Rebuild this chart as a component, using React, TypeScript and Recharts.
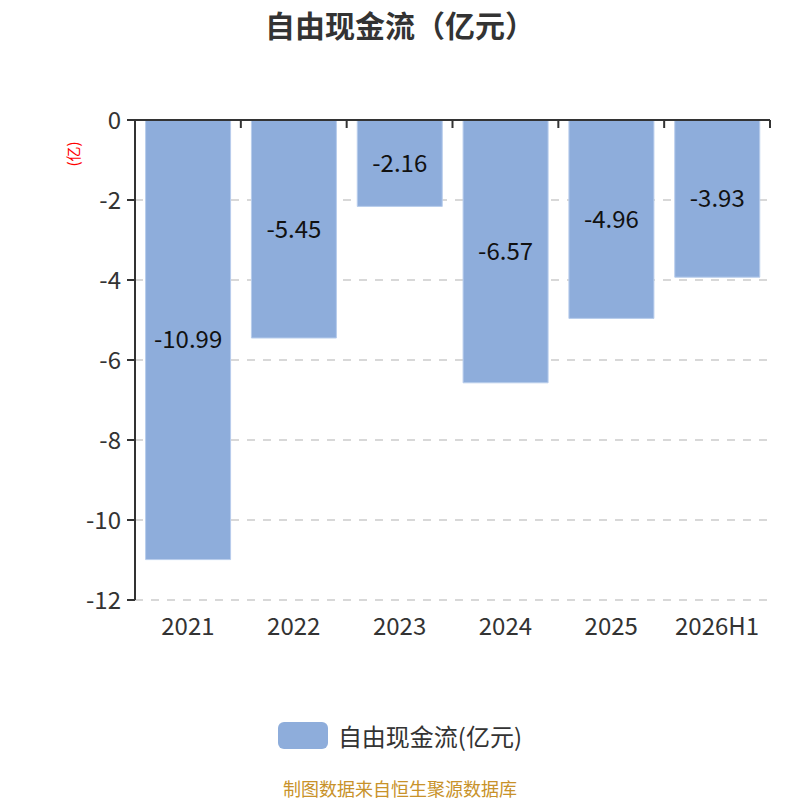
import React from 'react';
import { BarChart, Bar, XAxis, YAxis, CartesianGrid, Legend, LabelList } from 'recharts';

const years = ['2021', '2022', '2023', '2024', '2025', '2026H1'];
const freeCashFlow = [-10.99, -5.45, -2.16, -6.57, -4.96, -3.93];
const yTicks = [0, -2, -4, -6, -8, -10, -12];

const seriesName = '自由现金流(亿元)';
const barColor = '#8eaddb';
const font = '"Noto Sans CJK SC", "Noto Sans", sans-serif';

const data = years.map((year, i) => ({ year, value: freeCashFlow[i] }));

// ticks sit on the category boundaries, hanging down from the zero line
const BoundaryTick = (props: any) => {
  const { x, y, payload } = props;
  const half = payload?.offset ?? 0;
  const bx = x + half;
  return <line x1={bx} y1={y} x2={bx} y2={y + 8} stroke="#333" strokeWidth={2} />;
};

const LegendContent = () => (
  <div style={{ display: 'flex', justifyContent: 'center', alignItems: 'center', fontFamily: font }}>
    <span style={{ width: 50, height: 27, background: barColor, borderRadius: 6, display: 'inline-block', marginRight: 10 }} />
    <span style={{ fontSize: 24, color: '#333' }}>{seriesName}</span>
  </div>
);

export default function App() {
  return (
    <div style={{ position: 'absolute', left: 0, top: 0, width: 800, height: 800, background: '#fff', fontFamily: font }}>
      <div style={{ position: 'absolute', top: 4, left: 0, width: 800, lineHeight: '40px', textAlign: 'center', fontSize: 30, fontWeight: 'bold', color: '#333' }}>
        自由现金流（亿元）
      </div>
      <div
        style={{
          position: 'absolute',
          left: 53,
          top: 144,
          width: 40,
          height: 20,
          lineHeight: '20px',
          fontSize: 15,
          color: '#f00',
          transform: 'rotate(-90deg)',
          transformOrigin: 'center',
          textAlign: 'center',
        }}
      >
        (亿)
      </div>
      <BarChart width={800} height={800} data={data} margin={{ top: 120, right: 30, bottom: 160, left: 0 }} barCategoryGap="10%">
        <CartesianGrid vertical={false} stroke="#ccc" strokeDasharray="8 8" strokeWidth={1.5} />
        <XAxis
          dataKey="year"
          axisLine={false}
          tickLine={false}
          height={40}
          tickMargin={12}
          tick={{ fill: '#333', fontSize: 24, fontFamily: font }}
        />
        <XAxis
          xAxisId="zero"
          dataKey="year"
          orientation="top"
          mirror
          tickSize={0}
          tickMargin={0}
          axisLine={{ stroke: '#333', strokeWidth: 2 }}
          tickLine={false}
          tick={<BoundaryTick />}
        />
        <YAxis
          domain={[-12, 0]}
          ticks={yTicks}
          width={135}
          axisLine={{ stroke: '#333', strokeWidth: 2 }}
          tickLine={{ stroke: '#333', strokeWidth: 2 }}
          tickSize={8}
          tickMargin={6}
          tick={{ fill: '#333', fontSize: 24, fontFamily: font }}
          interval={0}
        />
        <Legend verticalAlign="middle" wrapperStyle={{ top: 718, left: 0, width: 800 }} content={<LegendContent />} />
        <Bar dataKey="value" name={seriesName} fill={barColor} stroke="#b8cdec" strokeWidth={1} isAnimationActive={false}>
          <LabelList dataKey="value" position="center" fill="#111" fontSize={24} fontFamily={font} />
        </Bar>
      </BarChart>
      <div style={{ position: 'absolute', top: 778, left: 0, width: 800, lineHeight: '20px', textAlign: 'center', fontSize: 18, color: '#c8922a' }}>
        制图数据来自恒生聚源数据库
      </div>
    </div>
  );
}
